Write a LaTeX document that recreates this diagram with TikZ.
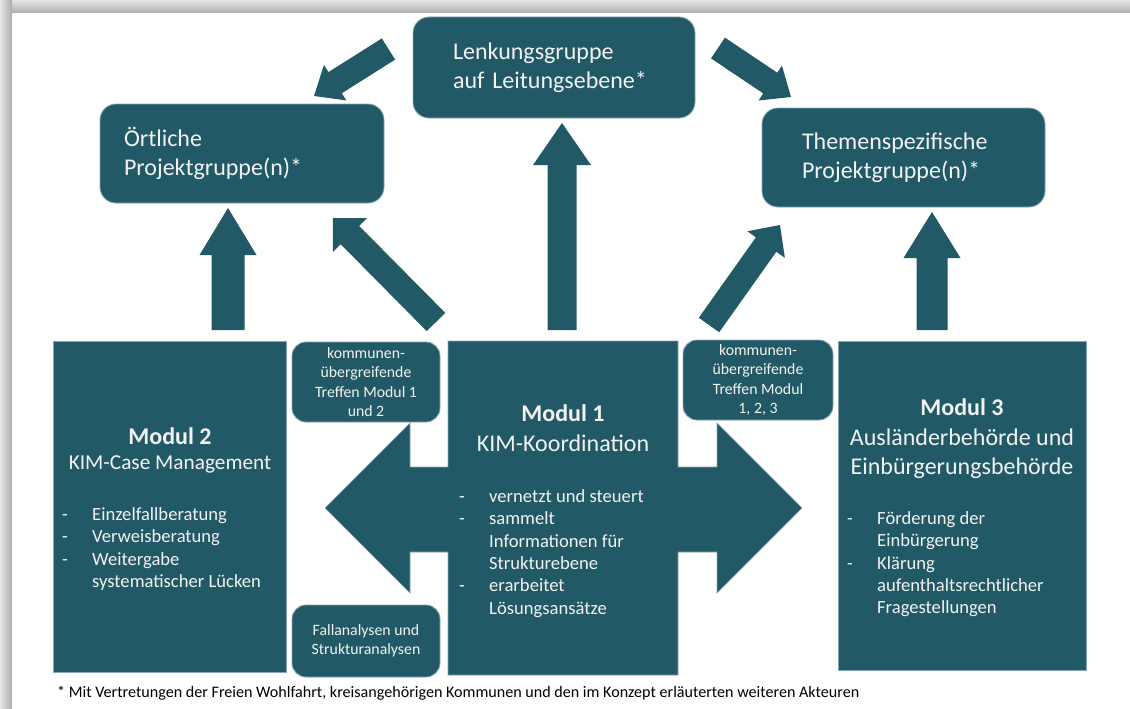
\documentclass[tikz,border=0pt]{standalone}
\usepackage{fontspec}
\setmainfont{Carlito}
\usetikzlibrary{calc}
\definecolor{kimteal}{RGB}{34,89,102}
\definecolor{kimedge}{RGB}{135,165,185}
\definecolor{kimtext}{RGB}{242,242,242}
\newcommand{\titlef}{\fontsize{24}{28.5}\selectfont}
\newcommand{\subf}{\fontsize{21.3}{26}\selectfont}
\newcommand{\listf}{\fontsize{18.6}{22.4}\selectfont}
\newcommand{\smallf}{\fontsize{15.8}{19.5}\selectfont}
\newcommand{\blockarrow}[5]{%
  \coordinate (barrowbase) at ($(#2)!#5!(#1)$);
  \fill[kimteal] ($(#1)!#3!90:(#2)$) -- ($(barrowbase)!#3!90:(#2)$) -- ($(barrowbase)!#4!90:(#2)$) -- (#2) -- ($(barrowbase)!#4!-90:(#2)$) -- ($(barrowbase)!#3!-90:(#2)$) -- ($(#1)!#3!-90:(#2)$) -- cycle;}
\newcommand{\litem}[1]{\makebox[30pt][l]{-}#1}
\newcommand{\lcont}[1]{\hspace*{30pt}#1}
\begin{document}
\begin{tikzpicture}[x=1pt,y=-1pt,
  box/.style={fill=kimteal, draw=kimedge, line width=0.8pt, text=kimtext, inner sep=0pt},
  rbox/.style={box, rounded corners=16pt, align=left, font=\titlef},
  sbox/.style={box, rounded corners=14pt, align=center, font=\smallf},
  wtext/.style={text=kimtext, inner sep=0pt},
  listnode/.style={wtext, anchor=north west, align=left, font=\listf}]
\useasboundingbox (0,0) rectangle (1130,709);
\fill[white] (0,0) rectangle (1130,709);
\shade[top color=black!10, bottom color=black!32] (0,0) rectangle (1130,13);
\shade[left color=black!10, right color=black!32] (0,0) rectangle (12,709);

% upper boxes
\node[rbox, minimum width=282pt, minimum height=101pt, text width=202pt] (lenk) at (554,67.5) {Lenkungsgruppe\\auf Leitungsebene*};
\node[rbox, minimum width=284pt, minimum height=99pt, text width=236pt] (oert) at (242,153.5) {Örtliche\\Projektgruppe(n)*};
\node[rbox, minimum width=283pt, minimum height=99pt, text width=203pt] (them) at (903.5,157.5) {Themenspezifische\\Projektgruppe(n)*};

% arrows
\coordinate (tlT) at (388.5,49); \coordinate (tlP) at (314,96);
\blockarrow{tlT}{tlP}{12.5pt}{21pt}{25pt}
\coordinate (trT) at (718,48); \coordinate (trP) at (791,97);
\blockarrow{trT}{trP}{12.5pt}{21pt}{25pt}
\coordinate (vlT) at (228,330); \coordinate (vlP) at (228,208);
\blockarrow{vlT}{vlP}{16.5pt}{28.5pt}{47pt}
\coordinate (vcT) at (562,330); \coordinate (vcP) at (562,123);
\blockarrow{vcT}{vcP}{14.5pt}{29pt}{42pt}
\coordinate (vrT) at (932,330); \coordinate (vrP) at (932,212);
\blockarrow{vrT}{vrP}{15.5pt}{28.5pt}{46pt}
\coordinate (dlT) at (436,322); \coordinate (dlP) at (333,218);
\blockarrow{dlT}{dlP}{13pt}{24pt}{24pt}
\coordinate (drT) at (709,325); \coordinate (drP) at (780,225);
\blockarrow{drT}{drP}{12.5pt}{23pt}{24pt}

% Modul 1 cross
\filldraw[fill=kimteal, draw=kimedge, line width=0.6pt] (448,341) -- (678,341) -- (678,467) -- (717,467) -- (717,423) -- (802,508) -- (717,593) -- (717,552) -- (678,552) -- (678,675) -- (448,675) -- (448,552) -- (410,552) -- (410,593) -- (325,508) -- (410,423) -- (410,467) -- (448,467) -- cycle;

% Modul 2 / 3 boxes
\node[box, minimum width=233pt, minimum height=331pt] (m2box) at (169.5,506.5) {};
\node[box, minimum width=248pt, minimum height=329pt] (m3box) at (962,505.5) {};

% small boxes
\node[sbox, minimum width=148pt, minimum height=80pt] (k12) at (366,382) {kommunen-\\übergreifende\\Treffen Modul 1\\und 2};
\node[sbox, minimum width=150pt, minimum height=80pt] (k123) at (758,380) {kommunen-\\übergreifende\\Treffen Modul\\1, 2, 3};
\node[sbox, minimum width=148pt, minimum height=72pt] (fall) at (366,641) {Fallanalysen und\\Strukturanalysen};

% Modul 1 text
\node[wtext, font=\titlef, anchor=base] (m1title) at (563,421) {\textbf{Modul 1}};
\node[wtext, font=\titlef, anchor=base] (m1sub) at (563,451) {KIM-Koordination};
\node[listnode] (m1list) at (459,485) {\rule{0pt}{17pt}\litem{vernetzt und steuert}\\\litem{sammelt}\\\lcont{Informationen für}\\\lcont{Strukturebene}\\\litem{erarbeitet}\\\lcont{Lösungsansätze}};

% Modul 2 text
\node[wtext, font=\titlef, anchor=base] (m2title) at (170,444) {\textbf{Modul 2}};
\node[wtext, font=\subf, anchor=base] (m2sub) at (170,469) {KIM-Case Management};
\node[listnode] (m2list) at (62,503) {\rule{0pt}{17pt}\litem{Einzelfallberatung}\\\litem{Verweisberatung}\\\litem{Weitergabe}\\\lcont{systematischer Lücken}};

% Modul 3 text
\node[wtext, font=\titlef, anchor=base] (m3title) at (962,415) {\textbf{Modul 3}};
\node[wtext, font=\titlef, anchor=base] (m3sub1) at (962,445) {Ausländerbehörde und};
\node[wtext, font=\titlef, anchor=base] (m3sub2) at (962,474) {Einbürgerungsbehörde};
\node[listnode] (m3list) at (847,507) {\rule{0pt}{17pt}\litem{Förderung der}\\\lcont{Einbürgerung}\\\litem{Klärung}\\\lcont{aufenthaltsrechtlicher}\\\lcont{Fragestellungen}};

% footnote
\node[inner sep=0pt, anchor=base west, font=\fontsize{16.1}{19}\selectfont] (fn) at (57,697) {* Mit Vertretungen der Freien Wohlfahrt, kreisangehörigen Kommunen und den im Konzept erläuterten weiteren Akteuren};
\end{tikzpicture}
\end{document}
